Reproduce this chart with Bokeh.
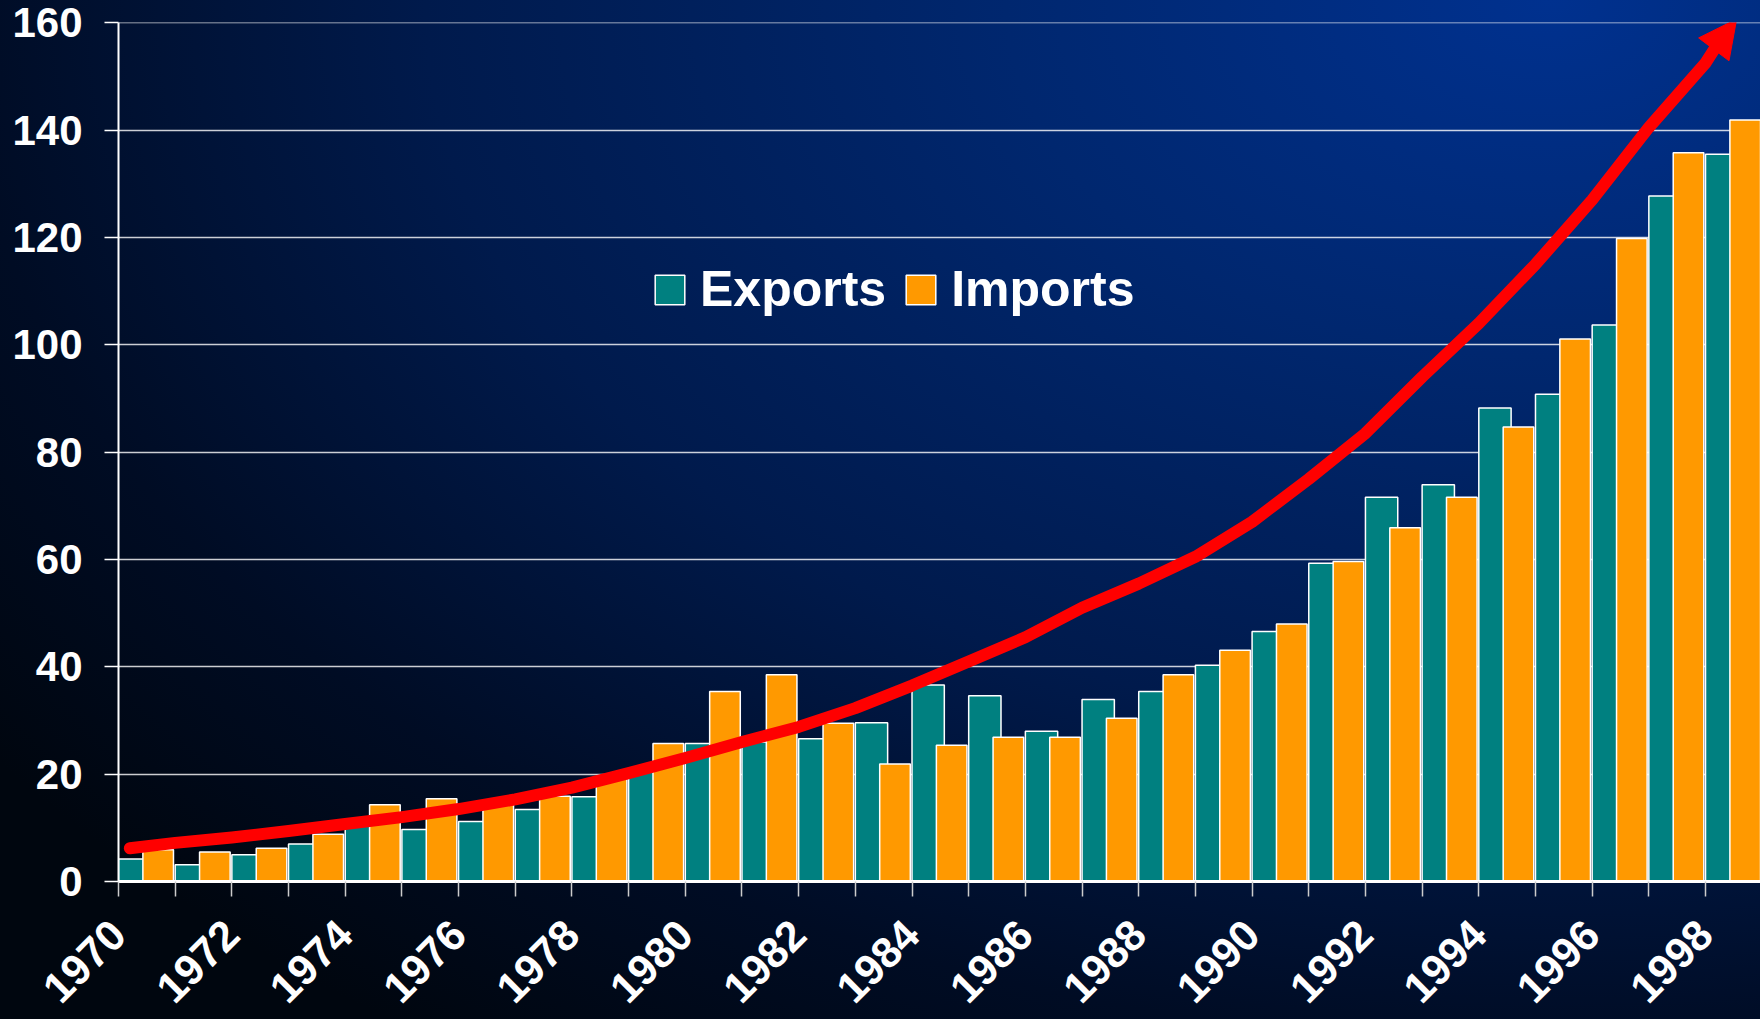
import math
from bokeh.plotting import figure
from bokeh.models import (Range1d, FixedTicker, Legend, LegendItem, Arrow, NormalHead,
                          ColumnDataSource, GlobalInlineStyleSheet)
from bokeh.embed import file_html
from bokeh.resources import INLINE

# ---------------- data ----------------
years = list(range(1970, 1999))
label_years = years[::2]
exports = [4.2, 3.1, 5.0, 7.0, 11.5, 9.7, 11.2, 13.4, 15.8, 20.5,
           25.7, 26.0, 26.6, 29.6, 36.6, 34.6, 28.0, 33.9, 35.4, 40.3,
           46.6, 59.3, 71.6, 73.9, 88.2, 90.8, 103.7, 127.7, 135.5]
imports = [5.9, 5.5, 6.2, 8.8, 14.3, 15.4, 14.6, 15.9, 19.5, 25.7,
           35.4, 38.5, 29.5, 21.9, 25.4, 26.9, 26.9, 30.4, 38.5, 43.1,
           48.0, 59.6, 65.9, 71.6, 84.7, 101.1, 119.8, 135.8, 141.9]
y_ticks = [0, 20, 40, 60, 80, 100, 120, 140, 160]
series_names = ["Exports", "Imports"]

# hand-drawn trend arrow (x in years, y in same units)
trend_x = [1970.2, 1971, 1972, 1973, 1974, 1975, 1976, 1977, 1978, 1979,
           1980, 1981, 1982, 1983, 1984, 1985, 1986, 1987, 1988, 1989,
           1990, 1991, 1992, 1993, 1994, 1995, 1996, 1997, 1998, 1998.2, 1998.55]
trend_y = [6.2, 7.2, 8.2, 9.4, 10.7, 12.0, 13.5, 15.3, 17.5, 20.2,
           23.0, 26.0, 28.8, 32.3, 36.5, 41.0, 45.5, 51.0, 55.5, 60.5,
           67.0, 75.0, 83.5, 94.0, 104.0, 115.0, 127.0, 140.5, 152.5, 155.8, 160.7]

# ---------------- styling ----------------
TEAL = "#008080"
ORANGE = "#FF9900"
FONT = "Liberation Sans"

exp_src = ColumnDataSource(dict(left=[y + 0.0 for y in years], right=[y + 0.57 for y in years],
                                top=exports, bottom=[0] * len(years)))
imp_src = ColumnDataSource(dict(left=[y + 0.43 for y in years], right=[y + 0.97 for y in years],
                                top=imports, bottom=[0] * len(years)))

p = figure(width=1760, height=1019,
           x_range=Range1d(1970, 1998.97), y_range=Range1d(0, 160.05),
           output_backend="svg", toolbar_location=None,
           min_border_left=118, min_border_right=0, min_border_top=22, min_border_bottom=138)
p.background_fill_color = None
p.border_fill_color = None
p.outline_line_color = None
p.styles = {"background": "radial-gradient(ellipse 110% 125% at 88% 0%, #00318f 0%, #00276f 28%, #001a4c 58%, #000c24 82%, #00060f 100%)"}
p.stylesheets = [GlobalInlineStyleSheet(css="body { background: #000814; }")]

r_exp = p.quad(left="left", right="right", top="top", bottom="bottom", source=exp_src,
               fill_color=TEAL, line_color="white", line_width=1.5)
r_imp = p.quad(left="left", right="right", top="top", bottom="bottom", source=imp_src,
               fill_color=ORANGE, line_color="white", line_width=1.5)

p.line(trend_x[:-1], trend_y[:-1], line_color="#FF0000", line_width=12,
       line_join="round", line_cap="round")
p.add_layout(Arrow(end=NormalHead(size=38, fill_color="#FF0000", line_color="#FF0000", line_width=1),
                   x_start=trend_x[-2], y_start=trend_y[-2], x_end=trend_x[-1], y_end=trend_y[-1],
                   line_alpha=0))

# axes
p.yaxis.ticker = FixedTicker(ticks=y_ticks)
p.yaxis.major_label_text_font = FONT
p.yaxis.major_label_text_font_style = "bold"
p.yaxis.major_label_text_font_size = "42px"
p.yaxis.major_label_text_color = "white"
p.yaxis.major_tick_out = 14
p.yaxis.major_tick_in = 0
p.yaxis.minor_tick_line_color = None
p.yaxis.major_tick_line_color = "white"
p.yaxis.major_tick_line_width = 1.5
p.yaxis.axis_line_color = "white"
p.yaxis.axis_line_width = 2
p.yaxis.major_label_standoff = 22

p.xaxis.ticker = FixedTicker(ticks=years)
p.xaxis.major_label_overrides = {y: (str(y) if y in label_years else "") for y in years}
p.xaxis.major_label_orientation = math.pi / 4
p.xaxis.major_label_text_font = FONT
p.xaxis.major_label_text_font_style = "bold"
p.xaxis.major_label_text_font_size = "43px"
p.xaxis.major_label_text_color = "white"
p.xaxis.major_tick_out = 15
p.xaxis.major_tick_in = 0
p.xaxis.minor_tick_line_color = None
p.xaxis.major_tick_line_color = "#cccccc"
p.xaxis.major_tick_line_width = 1.5
p.xaxis.axis_line_color = "white"
p.xaxis.axis_line_width = 3
p.xaxis.major_label_standoff = 31

p.xgrid.grid_line_color = None
p.ygrid.ticker = FixedTicker(ticks=y_ticks)
p.ygrid.grid_line_color = "white"
p.ygrid.grid_line_alpha = 0.8
p.ygrid.grid_line_width = 1.5

legend = Legend(items=[LegendItem(label=series_names[0], renderers=[r_exp]),
                       LegendItem(label=series_names[1], renderers=[r_imp])],
                orientation="horizontal", location=(533, 563),
                padding=0, margin=0, spacing=16, label_standoff=12,
                glyph_width=37, glyph_height=37,
                background_fill_alpha=0, border_line_alpha=0,
                label_text_font=FONT, label_text_font_style="bold",
                label_text_font_size="50px", label_text_color="white")
p.add_layout(legend)

open("out.html", "w").write(file_html(p, INLINE))
